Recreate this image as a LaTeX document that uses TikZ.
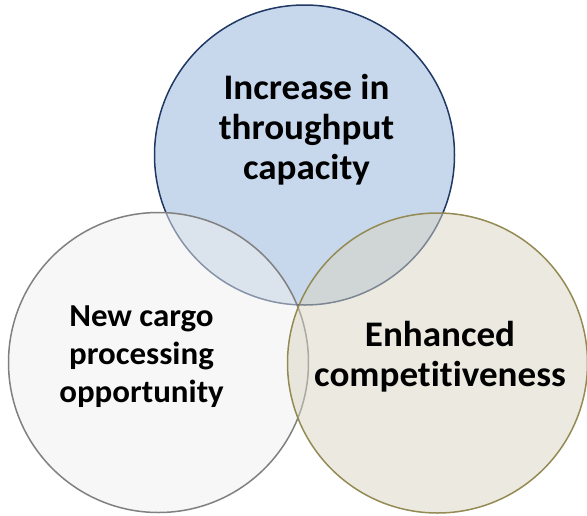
\documentclass[tikz,border=0pt]{standalone}
\usepackage{fontspec}
\setmainfont{Carlito}[FakeStretch=1.03, Ligatures=NoCommon]
\usetikzlibrary{positioning}
\definecolor{capfill}{RGB}{200,216,236}
\definecolor{capdraw}{RGB}{31,56,100}
\definecolor{cargofill}{RGB}{239,239,239}
\definecolor{cargodraw}{RGB}{128,128,128}
\definecolor{compfill}{RGB}{217,213,193}
\definecolor{compdraw}{RGB}{148,138,84}
\tikzstyle{bubble} = [circle, minimum size=300pt, inner sep=0pt, line width=1.5pt]
\tikzstyle{bubbletext} = [text centered, align=center, font=\bfseries\fontsize{36}{40}\selectfont]
\tikzstyle{smalltext} = [bubbletext, font=\bfseries\fontsize{32}{38}\selectfont]

\begin{document}
\begin{tikzpicture}[x=1pt, y=-1pt]
    \useasboundingbox (0,0) rectangle (587,515);

    % Circles
    \node (capacity) [bubble, draw=capdraw, fill=capfill] at (304.5,155) {};
    \node (cargo) [bubble, draw=cargodraw, fill=cargofill, fill opacity=0.5] at (158.5,362.5) {};
    \node (compet) [bubble, draw=compdraw, fill=compfill, fill opacity=0.5] at (437.5,363) {};

    % Texts
    \node (capacitytext) [bubbletext] at ([xshift=2pt, yshift=25pt]capacity.center) {Increase in\\throughput\\capacity};
    \node (cargotext) [smalltext] at ([xshift=-17pt, yshift=6pt]cargo.center) {New cargo\\processing\\opportunity};
    \node (complettext) [bubbletext] at ([xshift=2.5pt, yshift=6pt]compet.center) {Enhanced\\competitiveness};
\end{tikzpicture}
\end{document}
